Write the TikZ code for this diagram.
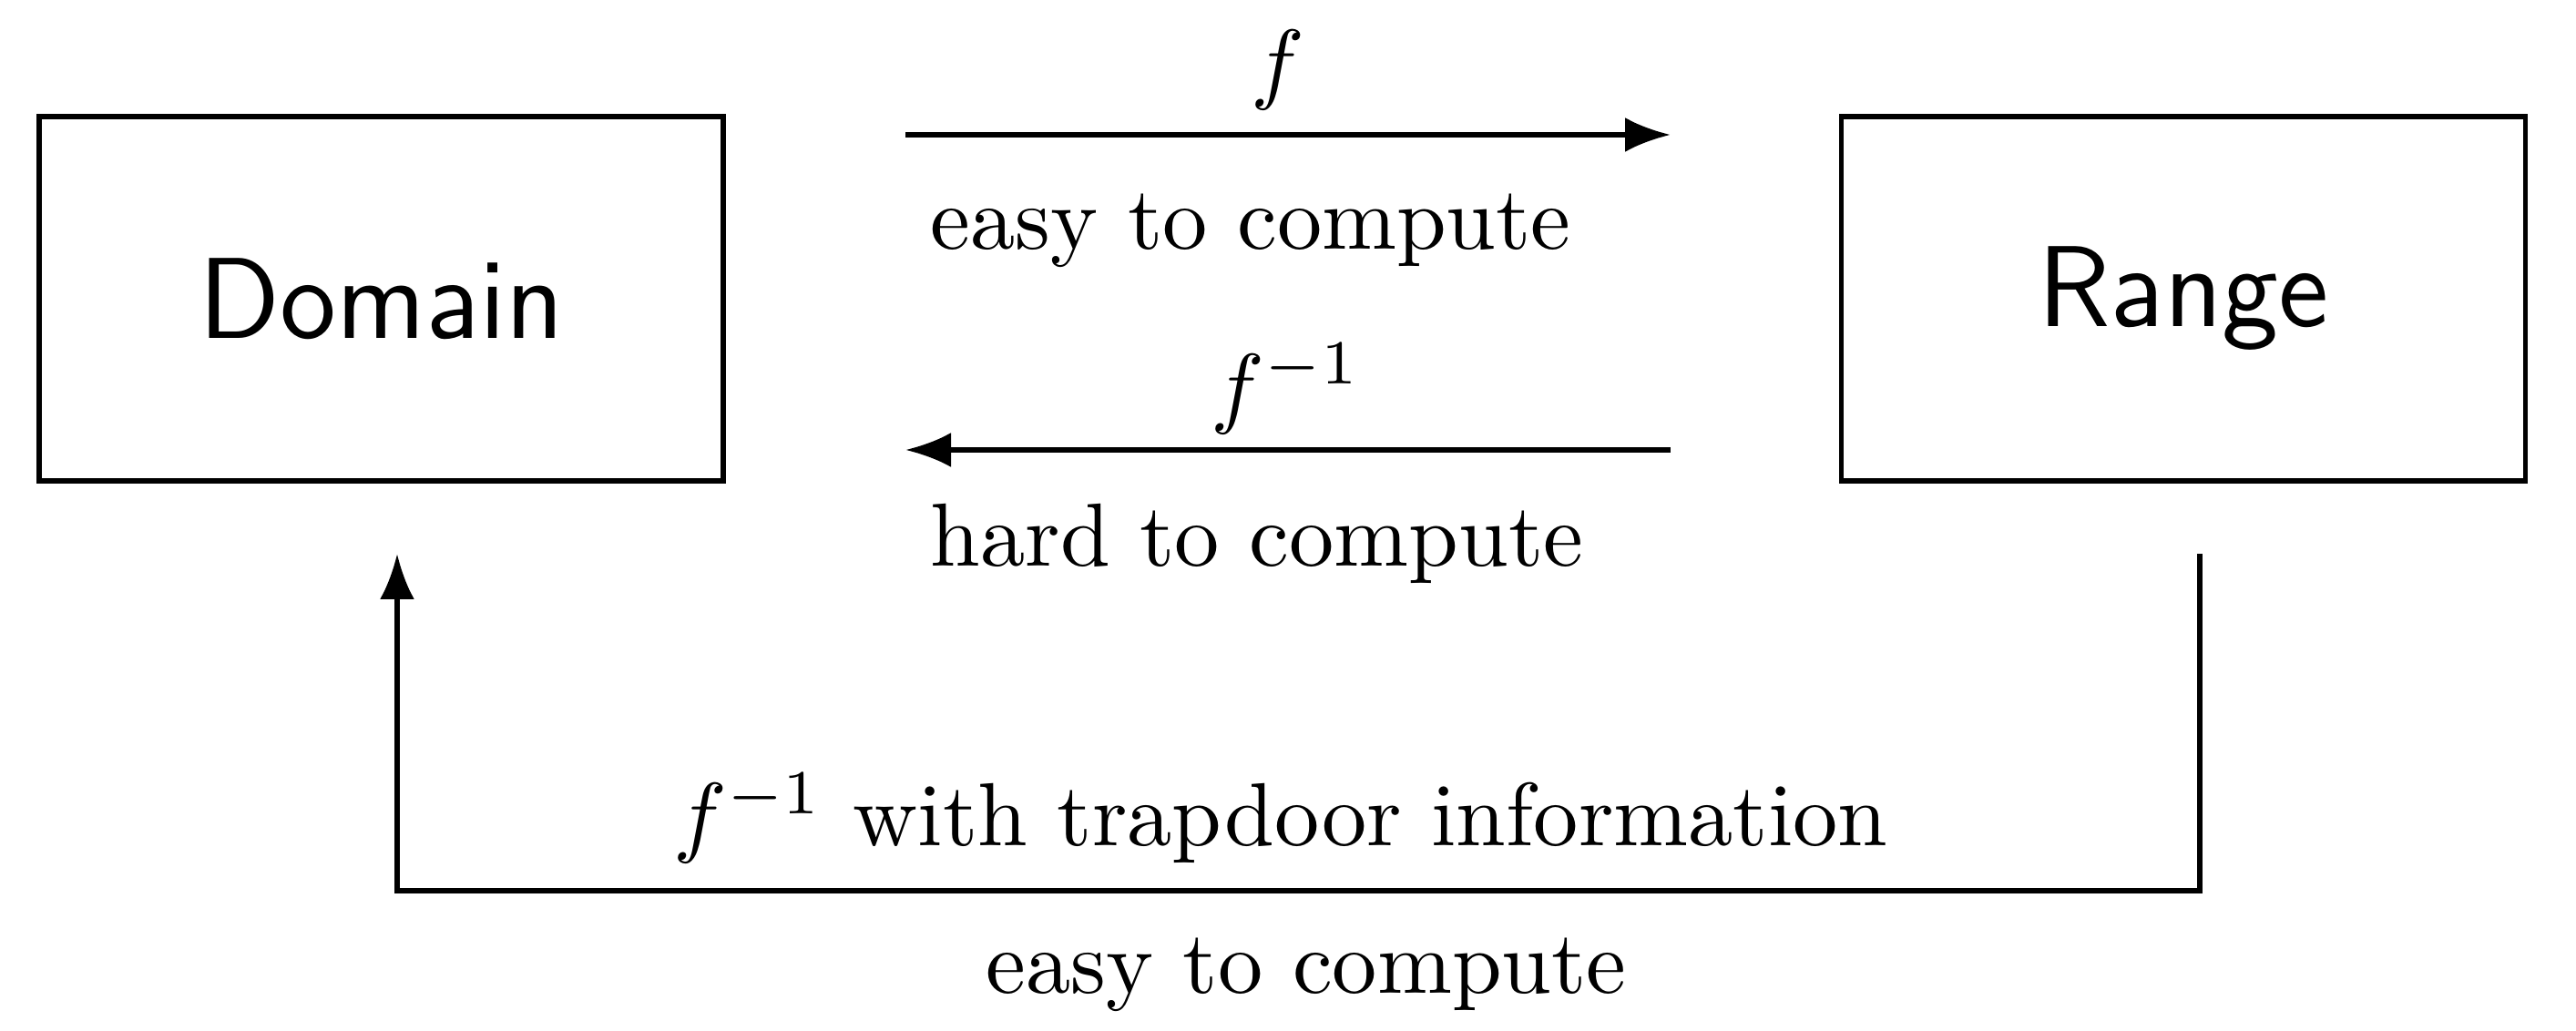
\documentclass[tikz,border=0pt]{standalone}
\usepackage{graphicx}
\usetikzlibrary{arrows.meta}
\newcommand{\bigtxt}[1]{\scalebox{2.8}{#1}}
\newcommand{\boxtxt}[1]{\scalebox{3.0}{\large\sffamily #1}}
\begin{document}
\begin{tikzpicture}[
  box/.style={draw, line width=1.6pt, minimum width=7.51cm, minimum height=4cm, inner sep=0pt},
  conn/.style={line width=1.6pt, -{Latex[length=5mm,width=3.8mm]}},
  lbl/.style={inner sep=0pt}]
\useasboundingbox (0,0) rectangle (28.28,11.32);
\node[box] (dom) at (4.185,8.04) {\boxtxt{Domain}};
\node[box] (ran) at (23.97,8.04) {\boxtxt{Range}};
\coordinate (a1s) at (9.94,9.84);
\coordinate (a1e) at (18.34,9.84);
\coordinate (a2s) at (18.34,6.38);
\coordinate (a2e) at (9.94,6.38);
\coordinate (b0) at (24.15,5.24);
\coordinate (b1) at (24.15,1.54);
\coordinate (b2) at (4.36,1.54);
\coordinate (b3) at (4.36,5.24);
\draw[conn] (a1s) -- (a1e);
\draw[conn] (a2s) -- (a2e);
\draw[conn] (b0) -- (b1) -- (b2) -- (b3);
\node[lbl] (lf) at (14.03,10.55) {\bigtxt{$f$}};
\node[lbl, anchor=base west] (le1) at (10.21,8.58) {\bigtxt{easy to compute}};
\node[lbl] (lfi) at (14.12,7.05) {\bigtxt{$f^{-1}$}};
\node[lbl, anchor=base west] (lh) at (10.21,5.10) {\bigtxt{hard to compute}};
\node[lbl, anchor=base] (lt) at (14.06,2.03) {\bigtxt{$f^{-1}$ with trapdoor information}};
\node[lbl, anchor=base] (le2) at (14.34,0.41) {\bigtxt{easy to compute}};
\end{tikzpicture}
\end{document}
